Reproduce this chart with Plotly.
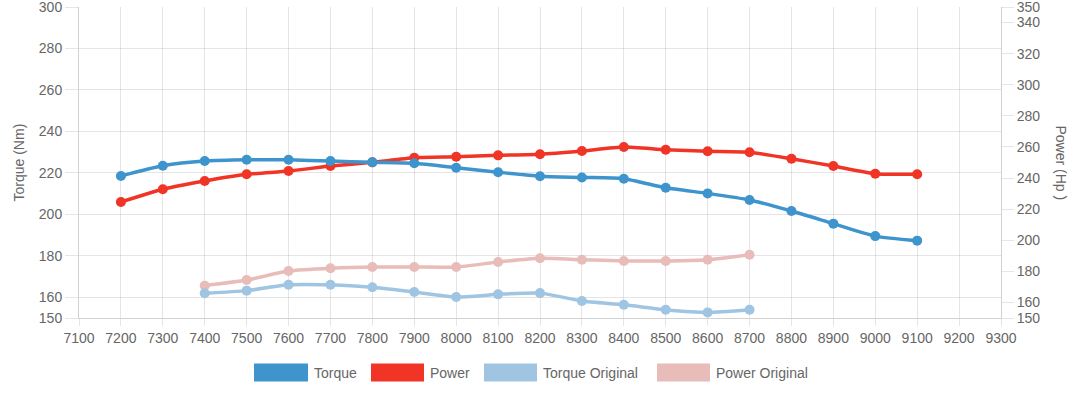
import plotly.graph_objects as go

rpm = [7200, 7300, 7400, 7500, 7600, 7700, 7800, 7900, 8000, 8100,
       8200, 8300, 8400, 8500, 8600, 8700, 8800, 8900, 9000, 9100]
torque = [218.5, 223.4, 225.7, 226.3, 226.3, 225.7, 225.1, 224.6, 222.5, 220.3,
          218.4, 217.8, 217.2, 212.8, 210.1, 206.9, 201.6, 195.5, 189.5, 187.3]
power = [224.6, 232.8, 238.1, 242.4, 244.5, 247.7, 250.1, 253.1, 253.7, 254.6,
         255.3, 257.4, 260.0, 258.2, 257.2, 256.6, 252.4, 247.7, 242.8, 242.4]

rpm_orig = [7400, 7500, 7600, 7700, 7800, 7900, 8000, 8100, 8200, 8300,
            8400, 8500, 8600, 8700]
torque_orig = [161.9, 163.2, 166.0, 166.0, 164.8, 162.5, 160.1, 161.4, 162.0, 158.2,
               156.4, 154.0, 152.7, 154.0]
power_orig = [170.8, 174.4, 180.2, 182.0, 182.8, 182.8, 182.8, 186.0, 188.4, 187.5,
              186.7, 186.7, 187.5, 190.7]

x_ticks = list(range(7100, 9301, 100))
left_ticks = [150, 160, 180, 200, 220, 240, 260, 280, 300]
right_ticks = [150, 160, 180, 200, 220, 240, 260, 280, 300, 320, 340, 350]

series_names = ["Torque", "Power", "Torque Original", "Power Original"]
series_colors = ["#3e95cd", "#f03426", "#9fc5e3", "#e8bcb9"]

FONT = "Liberation Sans, Arial, sans-serif"
GRID = "rgba(0,0,0,0.1)"
AXLINE = "rgba(0,0,0,0.18)"
TXT = "#666666"

W, H = 1080, 397
ML, MR, MT, MB = 79, 79, 7, 79

fig = go.Figure()

def add(x, y, name, color, axis):
    fig.add_trace(go.Scatter(
        x=x, y=y, name=name, mode="lines+markers",
        line=dict(color=color, width=3.5, shape="spline", smoothing=0.6),
        marker=dict(color=color, size=10),
        yaxis=axis, showlegend=False, cliponaxis=False,
    ))

# draw order: bottom first
add(rpm_orig, power_orig, series_names[3], series_colors[3], "y")
add(rpm, power, series_names[1], series_colors[1], "y")
add(rpm_orig, torque_orig, series_names[2], series_colors[2], "y2")
add(rpm, torque, series_names[0], series_colors[0], "y2")

tickfont = dict(family=FONT, size=14, color=TXT)

common = dict(automargin=False, ticklabeloverflow="allow", zeroline=False,
              tickfont=tickfont, showline=True, linecolor=AXLINE, linewidth=1,
              ticks="outside", tickcolor=GRID)

fig.update_layout(
    width=W, height=H,
    margin=dict(l=ML, r=MR, t=MT, b=MB, pad=0, autoexpand=False),
    paper_bgcolor="white", plot_bgcolor="white",
    showlegend=False,
    xaxis=dict(
        range=[7100, 9300], tickvals=x_ticks, ticktext=[str(v) for v in x_ticks],
        showgrid=True, gridcolor=GRID, gridwidth=1, ticklen=7, **common,
    ),
    # power axis (right)
    yaxis=dict(
        range=[150, 350], tickvals=right_ticks, ticktext=[str(v) for v in right_ticks],
        side="right", showgrid=False, ticklen=12, **common,
    ),
    # torque axis (left)
    yaxis2=dict(
        range=[150, 300], tickvals=left_ticks, ticktext=[str(v) for v in left_ticks],
        side="left", overlaying="y", showgrid=True, gridcolor=GRID, gridwidth=1,
        ticklen=13, **common,
    ),
)

pw = W - ML - MR
ph = H - MT - MB

def px_x(px):
    return (px - ML) / pw

def px_y(py):
    return (H - MB - py) / ph

annotations = [
    dict(text="Torque (Nm)", x=px_x(18), y=px_y(162.5), xref="paper", yref="paper",
         textangle=-90, showarrow=False, font=dict(family=FONT, size=14, color=TXT),
         xanchor="center", yanchor="middle"),
    dict(text="Power (Hp )", x=px_x(1061), y=px_y(162.5), xref="paper", yref="paper",
         textangle=90, showarrow=False, font=dict(family=FONT, size=14, color=TXT),
         xanchor="center", yanchor="middle"),
]

# manual legend (boxes + labels)
legend_boxes = [(254, 308), (371, 424), (484, 537), (657, 710)]
shapes = []
for (x0, x1), name, color in zip(legend_boxes, series_names, series_colors):
    shapes.append(dict(type="rect", xref="paper", yref="paper",
                       x0=px_x(x0), x1=px_x(x1), y0=px_y(381.5), y1=px_y(363.5),
                       fillcolor=color, line=dict(color=color, width=0)))
    annotations.append(dict(text=name, x=px_x(x1 + 4), y=px_y(372.5),
                            xref="paper", yref="paper", showarrow=False,
                            xanchor="left", yanchor="middle",
                            font=dict(family=FONT, size=14, color=TXT)))

fig.update_layout(annotations=annotations, shapes=shapes)

fig.write_html(
    "out.html",
    config={"displayModeBar": False},
    post_script="document.body.style.margin='0';document.body.style.padding='0';",
)
